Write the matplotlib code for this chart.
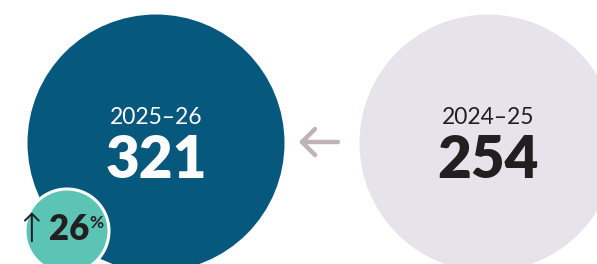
import matplotlib.pyplot as plt
from matplotlib.patches import Circle

# values
years = ["2025\u201326", "2024\u201325"]
counts = [321, 254]
change_pct = 26

navy = "#06587c"
grey = "#e6e4ea"
teal = "#5bc4b4"
ink = "#231f20"

fig = plt.figure(figsize=(5.97, 2.64), dpi=100)
ax = fig.add_axes([0, 0, 1, 1])
ax.set_xlim(0, 597)
ax.set_ylim(264, 0)
ax.set_aspect("equal")
ax.axis("off")

# big circles (pixel layout)
centers = [(156, 143), (488, 143)]
fills = [navy, grey]
txt_cols = ["white", ink]
for (cx, cy), fc, tc, yr, n in zip(centers, fills, txt_cols, years, counts):
    ax.add_patch(Circle((cx, cy), 128.5, facecolor=fc, edgecolor="none", zorder=1))
    ax.text(cx, 117, yr, color=tc, fontsize=16.5, family="Lato",
            ha="center", va="center", zorder=3)
    ax.text(cx, 160, str(n), color=tc, fontsize=42, family="Lato",
            fontweight="heavy", ha="center", va="center", zorder=3)

# arrow between circles
arrow_col = "#bfb3b6"
ax.plot([302, 338], [142, 142], color=arrow_col, lw=3.2, solid_capstyle="round")
ax.plot([315, 302, 315], [129, 142, 155], color=arrow_col, lw=3.2,
        solid_capstyle="round", solid_joinstyle="round")

# change badge
ax.add_patch(Circle((67, 231), 42, facecolor=teal, edgecolor="white", lw=2.2, zorder=4))
ax.text(48, 230, "\u2191", color=ink, fontsize=29, family="DejaVu Sans",
        fontweight="light", ha="right", va="center", zorder=5)
ax.text(48.5, 229, str(change_pct), color=ink, fontsize=25, family="Lato",
        fontweight="heavy", ha="left", va="center", zorder=5)
ax.text(89, 223, "%", color=ink, fontsize=12.5, family="Lato",
        fontweight="bold", ha="left", va="center", zorder=5)

fig.savefig("out.png", dpi=100)
